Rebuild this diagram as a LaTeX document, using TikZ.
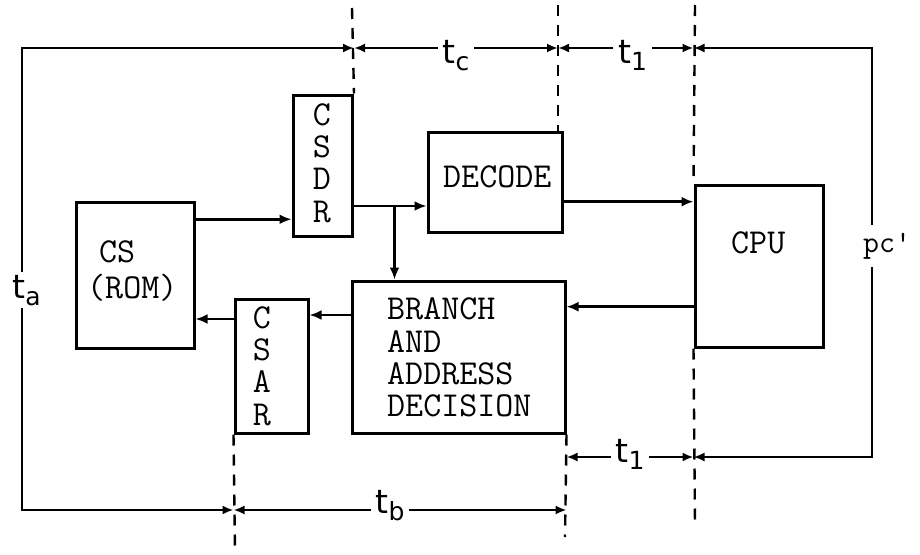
\documentclass[tikz,border=0pt]{standalone}
\usepackage{fontspec}
\usetikzlibrary{arrows.meta}
\newfontfamily\lbf{DejaVu Sans}
\newcommand\tsb[1]{t\raisebox{-7pt}{\fontsize{25}{25}\selectfont #1}}
\begin{document}
\begin{tikzpicture}[x=1pt,y=-1pt,
  blk/.style={draw, line width=3pt, inner sep=0pt},
  txt/.style={font=\ttfamily\fontsize{35}{32.3}\selectfont, inner sep=0pt, align=left},
  arr/.style={line width=2.8pt, -{Latex[length=12pt,width=10pt]}},
  dim/.style={line width=2.8pt, {Latex[length=11pt,width=9pt]}-{Latex[length=11pt,width=9pt]}},
  dsh/.style={line width=2.4pt, dash pattern=on 11pt off 9pt},
  lab/.style={font=\lbf\fontsize{33}{33}\selectfont, fill=white, inner xsep=5pt, inner ysep=3pt, anchor=base},
]
\useasboundingbox (0,0) rectangle (920,554);
% blocks
\node[blk, minimum width=117.5pt, minimum height=145.5pt] (cs) at (135.25,275.25) {};
\node[blk, minimum width=59.5pt, minimum height=141pt] (csdr) at (322.75,165.5) {};
\node[blk, minimum width=134pt, minimum height=100pt] (decode) at (495,182) {};
\node[blk, minimum width=128pt, minimum height=162pt] (cpu) at (759,266) {};
\node[blk, minimum width=213pt, minimum height=152pt] (branch) at (458.5,357) {};
\node[blk, minimum width=73pt, minimum height=134pt] (csar) at (271.5,366) {};
% texts (base anchor = baseline of the last line)
\node[txt, anchor=base west] (cst) at (87,298) {\hspace*{12pt}CS\\[3pt](ROM)};
\node[txt, align=center, anchor=base] (csdrt) at (322,222) {C\\S\\D\\R};
\node[txt, align=center, anchor=base] (csart) at (262,425) {C\\S\\A\\R};
\node[txt, anchor=base west] (decodet) at (443,187) {DECODE};
\node[txt, anchor=base west] (cput) at (731,253) {CPU};
\node[txt, anchor=base west] (brancht) at (387,416.7) {BRANCH\\AND\\ADDRESS\\DECISION};
% data connectors
\draw[arr] ([yshift=56pt]cs.east) -- ([yshift=56pt]cs.east -| csdr.west);
\draw[arr] ([yshift=-40.5pt]csdr.east) -- ([yshift=-40.5pt]csdr.east -| decode.west);
\coordinate (j) at ([xshift=40.5pt,yshift=-40.5pt]csdr.east);
\draw[arr] (j) -- (j |- branch.north);
\draw[arr] ([yshift=-19.7pt]decode.east) -- ([yshift=-19.7pt]decode.east -| cpu.west);
\draw[arr] ([yshift=-40.7pt]cpu.west) -- ([yshift=-40.7pt]cpu.west -| branch.east);
\draw[arr] ([yshift=42pt]branch.west) -- ([yshift=42pt]branch.west -| csar.east);
\draw[arr] ([yshift=47pt]csar.west) -- ([yshift=47pt]csar.west -| cs.east);
% dashed time markers
\coordinate (D1) at (352,8);
\coordinate (D2) at (558,5);
\coordinate (D2b) at (565,537);
\coordinate (D3) at (695,5);
\coordinate (D3b) at (695,525);
\coordinate (D4b) at (235,552);
\draw[dsh] (D1) -- (csdr.north east);
\draw[dsh] (D2) -- (D2 |- decode.north);
\draw[dsh] (branch.south east) -- (D2b);
\draw[dsh] (D3) -- (cpu.north west);
\draw[dsh] (cpu.south west) -- (D3b);
\draw[dsh] (csar.south west) -- (D4b);
% timing lines
\coordinate (TL) at (22,48);
\coordinate (BL) at (22,510);
\coordinate (TR) at (872,48);
\coordinate (BR) at (872,457);
\draw[dim] (TL -| csdr.east) -- (TL) -- (BL) -- (BL -| csar.west);
\node[lab] (ta) at (26.5,298) {\tsb{a}};
\draw[dim] (TL -| csdr.east) -- (TL -| D2) node[midway, lab, yshift=-15pt] (tc) {\tsb{c}};
\draw[dim] (TL -| D2) -- (TL -| cpu.west) node[pos=0.55, lab, yshift=-15pt] (t1a) {\tsb{1}};
\draw[dim] (TL -| cpu.west) -- (TR) -- (BR) -- (BR -| cpu.west);
\node[font=\ttfamily\fontsize{31}{31}\selectfont, fill=white, inner xsep=2pt, inner ysep=8pt, anchor=base west] (pc) at (861,252) {pc\textquotesingle};
\draw[dim] (BL -| csar.west) -- (BL -| branch.east) node[pos=0.47, lab, yshift=-3pt] (tb) {\tsb{b}};
\draw[dim] (BR -| branch.east) -- (BR -| cpu.west) node[midway, lab, yshift=-5pt] (t1b) {\tsb{1}};
\end{tikzpicture}
\end{document}
